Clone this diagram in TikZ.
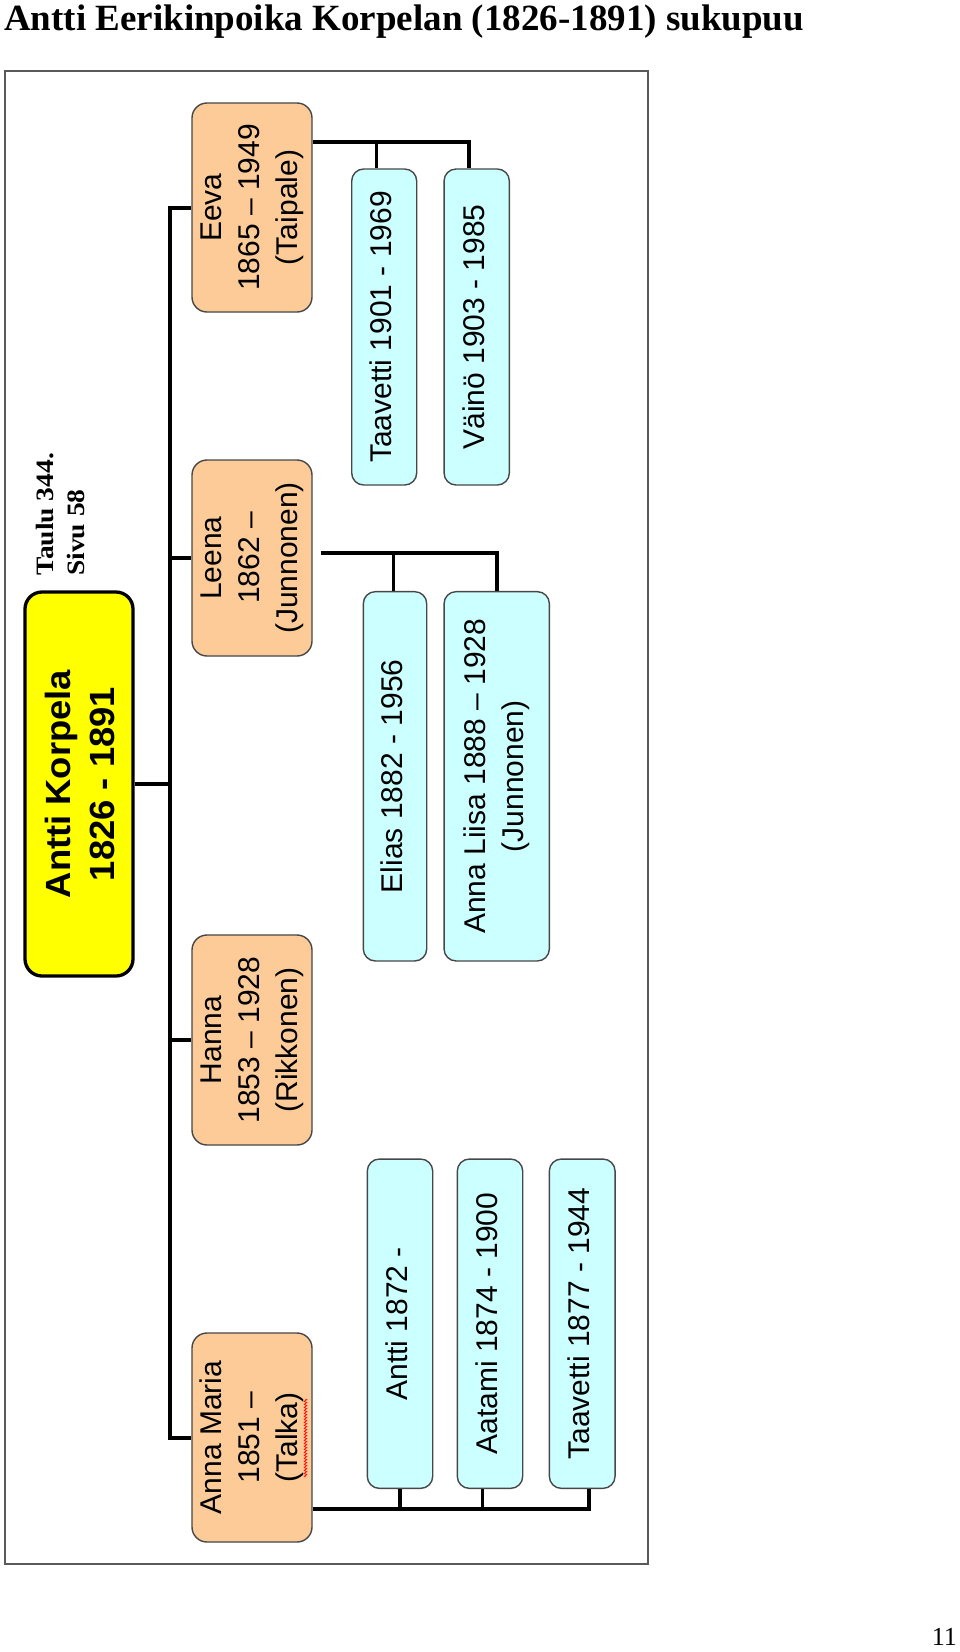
\documentclass[tikz,border=0pt]{standalone}
\usepackage{fontspec}
\setmainfont{Liberation Serif}
\newfontfamily\arialfont{Liberation Sans}
\usetikzlibrary{backgrounds,decorations.pathmorphing}
\definecolor{orangefill}{HTML}{FCCB98}
\definecolor{cyanfill}{HTML}{CCFFFF}
\definecolor{rootfill}{HTML}{FFFF00}
\newcommand\vtext[2]{\rotatebox{90}{\scalebox{#1}[1]{\begin{tabular}{@{}c@{}}#2\end{tabular}}}}
\tikzset{
  orangebox/.style={draw=black!72, line width=1.4pt, fill=orangefill, rounded corners=15pt, inner sep=0pt,
    font=\arialfont\fontsize{30pt}{38pt}\selectfont, minimum width=120pt},
  cyanbox/.style={draw=black!72, line width=1.4pt, fill=cyanfill, rounded corners=12pt, inner sep=0pt,
    font=\arialfont\fontsize{30pt}{38pt}\selectfont},
  rootbox/.style={draw=black, line width=3.3pt, fill=rootfill, rounded corners=17pt, inner sep=0pt,
    font=\arialfont\bfseries\fontsize{35pt}{45pt}\selectfont},
  conn/.style={line width=4pt, black},
  dropline/.style={line width=3.4pt, black},
  framebox/.style={draw=black!65, line width=1.2pt},
  sidenote/.style={font=\bfseries\fontsize{25pt}{30pt}\selectfont, inner sep=0pt, rotate=90, anchor=base west},
}
\begin{document}
\begin{tikzpicture}[x=1pt,y=-1pt]
\useasboundingbox (0,0) rectangle (960,1652);
\begin{scope}[on background layer]
  \fill[white] (0,0) rectangle (960,1652);
\end{scope}

% title and page number
\node[anchor=base west, inner sep=0pt, font=\bfseries\fontsize{37pt}{40pt}\selectfont] (title) at (4,30.7)
  {Antti Eerikinpoika Korpelan (1826-1891) sukupuu};
\node[anchor=base east, inner sep=0pt, font=\fontsize{26pt}{28pt}\selectfont] (pagenum) at (957,1645) {11};

% frame
\draw[framebox] (5,71) rectangle (648,1564);

% side note
\node[sidenote] (taulu) at (53,576) {\scalebox{1.1}[1]{Taulu 344.}};
\node[sidenote] (sivu) at (84,576) {\scalebox{1.1}[1]{Sivu 58}};

% root
\node[rootbox, minimum width=108pt, minimum height=384pt] (root) at (79,784)
  {\hspace*{9pt}\vtext{1.04}{Antti Korpela\\1826 - 1891}};

% daughters
\node[orangebox, minimum height=209pt] (eeva) at (252,207.5)
  {\vtext{1}{Eeva\\1865 – 1949\\(Taipale)}};
\node[orangebox, minimum height=196pt] (leena) at (252,558)
  {\vtext{1}{Leena\\1862 –\\(Junnonen)}};
\node[orangebox, minimum height=210pt] (hanna) at (252,1040)
  {\vtext{1}{Hanna\\1853 – 1928\\(Rikkonen)}};
\node[orangebox, minimum height=209pt] (annamaria) at (252,1437.5)
  {\vtext{1}{Anna Maria\\1851 –\\(Talka)}};

% grandchildren
\node[cyanbox, minimum width=65pt, minimum height=316pt] (taavA) at (384.2,327)
  {\vtext{1}{Taavetti 1901 - 1969}};
\node[cyanbox, minimum width=65.3pt, minimum height=316pt] (vaino) at (476.7,327)
  {\vtext{1}{Väinö 1903 - 1985}};
\node[cyanbox, minimum width=63.4pt, minimum height=369.3pt] (elias) at (395,776.3)
  {\vtext{1}{Elias 1882 - 1956}};
\node[cyanbox, minimum width=105.3pt, minimum height=369.3pt] (annaliisa) at (496.7,776.3)
  {\vtext{1}{Anna Liisa 1888 – 1928\\(Junnonen)}};
\node[cyanbox, minimum width=65.4pt, minimum height=329.3pt] (antti) at (400,1323.7)
  {\vtext{1}{Antti 1872 -}};
\node[cyanbox, minimum width=65.4pt, minimum height=329.3pt] (aatami) at (490,1323.7)
  {\vtext{1}{Aatami 1874 - 1900}};
\node[cyanbox, minimum width=65.7pt, minimum height=329.3pt] (taavB) at (582.2,1323.7)
  {\vtext{1}{Taavetti 1877 - 1944}};

% spell-check squiggle under "Talka"
\draw[red, line width=0.7pt, decorate, decoration={zigzag, amplitude=1.3pt, segment length=3pt}]
  (305.5,1399) -- (305.5,1477);

% connectors
\coordinate (trunk) at (170,0);
\coordinate (eJ) at (469.2,142.3);
\coordinate (lJ) at (496.7,552.7);
\coordinate (aJ) at (589.3,1509.3);
\begin{scope}[on background layer]
  \draw[conn] (eeva.west) -| (trunk |- annamaria.west) -- (annamaria.west);
  \draw[conn] (leena.west) -- (leena.west -| trunk);
  \draw[conn] (hanna.west) -- (hanna.west -| trunk);
  \draw[conn] (root.east) -- (root.east -| trunk);
  % Eeva's children
  \draw[conn] (eeva.east |- eJ) -- (eJ) -- (eJ |- vaino.north);
  \draw[dropline] ([xshift=-7.5pt]taavA.north) -- ([xshift=-7.5pt]taavA.north |- eJ);
  % Leena's children
  \draw[conn] ([xshift=8pt]leena.east |- lJ) -- (lJ) -- (lJ |- annaliisa.north);
  \draw[dropline] ([xshift=-1.7pt]elias.north) -- ([xshift=-1.7pt]elias.north |- lJ);
  % Anna Maria's children
  \draw[conn] (annamaria.east |- aJ) -- (aJ) -- (aJ |- taavB.south);
  \draw[dropline] (antti.south) -- (antti.south |- aJ);
  \draw[dropline] ([xshift=-7.3pt]aatami.south) -- ([xshift=-7.3pt]aatami.south |- aJ);
\end{scope}
\end{tikzpicture}
\end{document}
